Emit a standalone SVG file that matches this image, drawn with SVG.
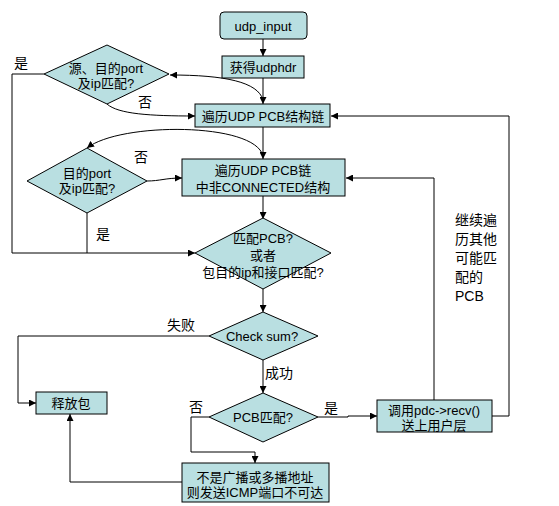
<svg xmlns="http://www.w3.org/2000/svg" width="559" height="506" viewBox="0 0 559 506">
<defs>
<marker id="ah" viewBox="0 0 10 10" refX="10" refY="5" markerWidth="7" markerHeight="7" markerUnits="userSpaceOnUse" orient="auto">
<path d="M0,0 L10,5 L0,10 z" fill="#000"/>
</marker>
<style>
.n{fill:#B9DFE1;stroke:#000;stroke-width:1}
.t{font-family:"Liberation Sans","Noto Sans CJK SC",sans-serif;font-size:13px;fill:#000;text-anchor:middle}
.l{font-family:"Liberation Sans","Noto Sans CJK SC",sans-serif;font-size:14px;fill:#000}
.c{fill:none;stroke:#000;stroke-width:1}
.a{marker-end:url(#ah)}
</style>
</defs>
<rect width="559" height="506" fill="#fff"/>
<g id="connectors">
<path class="c a" d="M263,39 L263,56"/>
<path class="c a" d="M263,78 L263,104"/>
<path class="c a" d="M263,100 C258,82 225,75 170,75"/>
<path class="c a" d="M107,104 C118,114 150,116 195,116"/>
<path class="c a" d="M44,74 L12,74 L12,253 L195,253"/>
<path class="c a" d="M263,127 L263,159"/>
<path class="c a" d="M263,156 C255,122 120,122 87,148"/>
<path class="c a" d="M147,181 C160,181 165,178 182,178"/>
<path class="c" d="M87,213 L87,253"/>
<path class="c a" d="M263,196 L263,219"/>
<path class="c a" d="M263,289 L263,312"/>
<path class="c a" d="M209,336 L18,336 L18,403 L36,403"/>
<path class="c a" d="M263,360 L263,393"/>
<path class="c a" d="M318,417 L348,417 L348,416 L377,416"/>
<path class="c a" d="M209,417 L191,417 L191,452 L255,452 L255,463"/>
<path class="c a" d="M182,482 L70,482 L70,414"/>
<path class="c a" d="M434,400 L434,178 L346,178"/>
<path class="c a" d="M492,416 L509,416 L509,116 L331,116"/>
</g>
<g id="n_udp_input">
<rect class="n" x="220" y="12" width="87" height="27" rx="4"/>
<text class="t" x="263" y="30.5">udp_input</text>
</g>
<g id="n_udphdr">
<rect class="n" x="222" y="56" width="82" height="22"/>
<text class="t" x="263" y="71.5">获得udphdr</text>
</g>
<g id="n_traverse">
<rect class="n" x="195" y="104" width="135" height="23"/>
<text class="t" x="263" y="120.5">遍历UDP PCB结构链</text>
</g>
<g id="n_traverse2">
<rect class="n" x="182" y="159" width="163" height="37"/>
<text class="t" x="263" y="174.5">遍历UDP PCB链</text>
<text class="t" x="263" y="192">中非CONNECTED结构</text>
</g>
<g id="n_d1">
<polygon class="n" points="107,45 169,74 107,104 44,74"/>
<text class="t" x="106" y="72.5">源、目的port</text>
<text class="t" x="106" y="87.5">及ip匹配?</text>
</g>
<g id="n_d2">
<polygon class="n" points="87,148 147,181 87,213 27,181"/>
<text class="t" x="87" y="177.5">目的port</text>
<text class="t" x="87" y="192.5">及ip匹配?</text>
</g>
<g id="n_d3">
<polygon class="n" points="263,218 331,253 263,289 195,253"/>
<text class="t" x="263" y="242.5">匹配PCB?</text>
<text class="t" x="263" y="259.5">或者</text>
<text class="t" x="263" y="276.5">包目的ip和接口匹配?</text>
</g>
<g id="n_checksum">
<polygon class="n" points="263,312 318,336 263,360 209,336"/>
<text class="t" x="262" y="340.5">Check sum?</text>
</g>
<g id="n_pcbmatch">
<polygon class="n" points="263,393 318,417 263,442 209,417"/>
<text class="t" x="263" y="421.5">PCB匹配?</text>
</g>
<g id="n_free">
<rect class="n" x="36" y="392" width="71" height="22"/>
<text class="t" x="71" y="407.5">释放包</text>
</g>
<g id="n_icmp">
<rect class="n" x="182" y="463" width="147" height="39"/>
<text class="t" x="255" y="481.5">不是广播或多播地址</text>
<text class="t" x="255" y="496.5">则发送ICMP端口不可达</text>
</g>
<g id="n_recv">
<rect class="n" x="377" y="400" width="115" height="32"/>
<text class="t" x="434" y="414.5">调用pdc-&gt;recv()</text>
<text class="t" x="434" y="429.5">送上用户层</text>
</g>
<g id="labels">
<text class="l" x="14" y="68">是</text>
<text class="l" x="138" y="107">否</text>
<text class="l" x="134" y="162">否</text>
<text class="l" x="96" y="239">是</text>
<text class="l" x="167" y="330">失败</text>
<text class="l" x="265" y="378">成功</text>
<text class="l" x="189" y="412">否</text>
<text class="l" x="324" y="413">是</text>
<text class="l" x="455" y="225">继续遍</text>
<text class="l" x="455" y="244">历其他</text>
<text class="l" x="455" y="263">可能匹</text>
<text class="l" x="455" y="282">配的</text>
<text class="l" x="455" y="301">PCB</text>
</g>
</svg>
